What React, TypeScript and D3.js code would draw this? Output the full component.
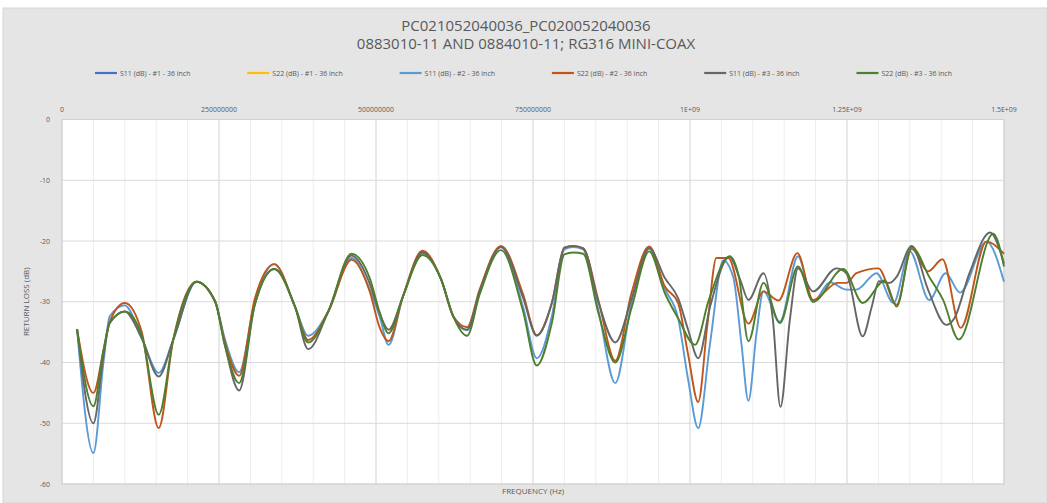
import * as d3 from "d3";

// frequency (MHz) / return loss (dB)
const freqS11n2 = [24, 50, 66, 76, 100, 127, 154, 177, 214, 244, 259, 282, 307, 338, 371, 392, 424, 461, 490, 506, 520, 543, 574, 604, 623, 645, 665, 699, 734, 756, 780, 800, 814, 830, 854, 881, 907, 935, 960, 981, 997, 1013, 1032, 1053, 1069, 1082, 1093, 1106, 1117, 1143, 1172, 1196, 1223, 1249, 1265, 1297, 1324, 1350, 1381, 1407, 1430, 1472, 1500];
const rlS11n2 = [-34.5, -54.9, -40, -32.4, -30.6, -36, -41.7, -36.3, -26.7, -30, -36, -41.6, -30, -23.8, -30.8, -35.6, -31.6, -22.8, -28, -32.5, -37.1, -29.1, -21.9, -26.4, -32.4, -34.7, -28.6, -21.0, -30.8, -39.3, -32.4, -21.4, -21.0, -21.4, -31.3, -43.4, -30.0, -21.2, -27.9, -32.7, -42.8, -50.8, -36.8, -23.2, -26, -37, -46.3, -35.1, -28.3, -33.3, -22.5, -30.0, -26.8, -28.0, -28.0, -25.3, -30.2, -21.7, -29.7, -25.3, -28.5, -20.1, -26.7];

const freqS22n2 = [24, 50, 66, 76, 100, 127, 154, 177, 214, 244, 259, 282, 307, 338, 371, 392, 424, 461, 490, 506, 520, 543, 574, 604, 623, 645, 665, 699, 734, 756, 780, 800, 814, 830, 854, 881, 907, 935, 960, 981, 997, 1013, 1028, 1042, 1061, 1093, 1117, 1141, 1171, 1196, 1235, 1249, 1265, 1300, 1329, 1353, 1379, 1402, 1431, 1472, 1500];
const rlS22n2 = [-34.5, -45.0, -38, -33.3, -30.2, -35, -50.8, -36.3, -26.7, -30, -36.5, -42.2, -29.5, -23.8, -30.8, -36.3, -31.6, -23.1, -28.3, -34.3, -36.5, -29.1, -21.6, -26.4, -32.4, -34.2, -28.0, -20.8, -28.7, -35.5, -30.2, -21.1, -20.8, -21.2, -29.7, -39.7, -28.5, -20.9, -27.5, -30.2, -38.7, -46.5, -33.5, -22.8, -22.8, -33.6, -28.3, -29.8, -22.0, -29.7, -26.9, -26.9, -25.3, -24.5, -30.5, -21.3, -25.0, -23.0, -34.3, -20.1, -22.1];

const freqS11n3 = [24, 50, 66, 76, 100, 127, 154, 177, 214, 244, 259, 282, 307, 338, 371, 392, 424, 461, 490, 506, 520, 543, 574, 604, 623, 645, 665, 699, 734, 756, 780, 800, 814, 830, 854, 881, 907, 935, 960, 981, 997, 1013, 1032, 1063, 1080, 1093, 1117, 1132, 1144, 1159, 1172, 1196, 1233, 1249, 1275, 1289, 1301, 1318, 1329, 1353, 1379, 1408, 1421, 1445, 1478, 1500];
const rlS11n3 = [-34.5, -50.0, -39, -33.5, -31.6, -36, -42.3, -36.3, -26.7, -30, -37, -44.6, -30.5, -24.6, -30.8, -37.8, -31.6, -22.4, -27, -32, -34.6, -29.1, -21.9, -26.4, -32.4, -34.6, -28.3, -21.0, -29.3, -35.6, -30.2, -21.1, -20.8, -21.2, -30, -36.7, -29.5, -21.2, -26.1, -29.4, -34.6, -39.3, -30.8, -22.6, -26.4, -29.7, -25.3, -33, -47.3, -33, -24.5, -28.3, -24.5, -25.3, -35.7, -31, -26.6, -26.9, -25.9, -20.8, -28.0, -33.8, -32.7, -25.3, -18.6, -23.7];

const freqS22n3 = [24, 50, 66, 76, 100, 127, 154, 177, 214, 244, 259, 282, 307, 338, 371, 392, 424, 461, 490, 506, 520, 543, 574, 604, 623, 645, 665, 699, 734, 756, 780, 800, 814, 830, 854, 881, 907, 935, 960, 981, 1008, 1030, 1063, 1078, 1093, 1117, 1143, 1172, 1196, 1244, 1275, 1310, 1329, 1353, 1382, 1403, 1428, 1483, 1500];
const rlS22n3 = [-34.5, -47.2, -38, -33.5, -31.6, -35.5, -48.6, -36.3, -26.7, -30, -37, -43.4, -30.5, -24.6, -30.8, -36.7, -31.6, -22.1, -26.1, -31.8, -35.2, -29.1, -22.3, -26.4, -32.4, -35.6, -28.8, -21.5, -31.5, -40.5, -33.5, -22.2, -21.9, -22.1, -31.8, -40.0, -31, -21.7, -28.6, -32.7, -37.1, -29.7, -22.5, -26, -36.5, -26.9, -33.5, -24.2, -30.0, -24.6, -30.2, -26.5, -30.8, -21.0, -26.1, -29.7, -36.2, -18.8, -24.2];

const seriesNames = [
  "S11 (dB) - #1 - 36 inch",
  "S22 (dB) - #1 - 36 inch",
  "S11 (dB) - #2 - 36 inch",
  "S22 (dB) - #2 - 36 inch",
  "S11 (dB) - #3 - 36 inch",
  "S22 (dB) - #3 - 36 inch",
];
const seriesColors = ["#4472C4", "#FFC000", "#5B9BD5", "#C0561A", "#666666", "#4E7F2E"];
// #1 measurements have no plotted points in the source chart
const seriesFreqs: number[][] = [[], [], freqS11n2, freqS22n2, freqS11n3, freqS22n3];
const seriesValues: number[][] = [[], [], rlS11n2, rlS22n2, rlS11n3, rlS22n3];

const xTicks = [0, 250e6, 500e6, 750e6, 1e9, 1.25e9, 1.5e9];
const xTickLabels = ["0", "250000000", "500000000", "750000000", "1E+09", "1.25E+09", "1.5E+09"];
const yTicks = [0, -10, -20, -30, -40, -50, -60];

const W = 1047;
const H = 503;
const plot = { left: 62, right: 1004, top: 119.5, bottom: 484 };

export default function App() {
  const x = d3.scaleLinear().domain([0, 1.5e9]).range([plot.left, plot.right]);
  const y = d3.scaleLinear().domain([-60, 0]).range([plot.bottom, plot.top]);

  const line = d3
    .line<[number, number]>()
    .x(d => x(d[0] * 1e6))
    .y(d => y(d[1]))
    .curve(d3.curveMonotoneX);

  const minorX = d3.range(0, 1.5e9 + 1, 50e6);
  const font = "'Open Sans', 'Liberation Sans', sans-serif";

  return (
    <svg width={W} height={H} style={{ position: "absolute", left: 0, top: 0 }} fontFamily={font}>
      <rect x={0} y={0} width={W} height={H} fill="#ffffff" />
      <rect x={3} y={8} width={W - 3} height={H - 8} fill="#e5e5e5" stroke="#d6d6d6" />

      <text x={526} y={31} textAnchor="middle" fontSize={15} fill="#595959">
        PC021052040036_PC020052040036
      </text>
      <text x={526} y={49} textAnchor="middle" fontSize={15} fill="#595959">
        0883010-11 AND 0884010-11; RG316 MINI-COAX
      </text>

      {seriesNames.map((name, i) => {
        const lx = 95 + i * 152.3;
        return (
          <g key={name}>
            <line x1={lx} x2={lx + 22} y1={73} y2={73} stroke={seriesColors[i]} strokeWidth={2.2} />
            <text x={lx + 25} y={75.5} fontSize={7} fill="#595959">
              {name}
            </text>
          </g>
        );
      })}

      <rect x={plot.left} y={plot.top} width={plot.right - plot.left} height={plot.bottom - plot.top} fill="#ffffff" />
      {minorX.map(v => (
        <line key={"mx" + v} x1={x(v)} x2={x(v)} y1={plot.top} y2={plot.bottom} stroke="#eeeeee" strokeWidth={1} />
      ))}
      {xTicks.map(v => (
        <line key={"gx" + v} x1={x(v)} x2={x(v)} y1={plot.top} y2={plot.bottom} stroke="#dadada" strokeWidth={1} />
      ))}
      {yTicks.map(v => (
        <line key={"gy" + v} x1={plot.left} x2={plot.right} y1={y(v)} y2={y(v)} stroke="#dadada" strokeWidth={1} />
      ))}
      <rect x={plot.left} y={plot.top} width={plot.right - plot.left} height={plot.bottom - plot.top} fill="none" stroke="#d0d0d0" />

      {xTicks.map((v, i) => (
        <text key={"tx" + v} x={x(v)} y={112} textAnchor="middle" fontSize={7} fill="#595959">
          {xTickLabels[i]}
        </text>
      ))}
      {yTicks.map(v => (
        <text key={"ty" + v} x={50} y={y(v) + 2.5} textAnchor="end" fontSize={7} fill="#595959">
          {String(v)}
        </text>
      ))}

      <text transform={`translate(29,${(plot.top + plot.bottom) / 2}) rotate(-90)`} textAnchor="middle" fontSize={8} fill="#595959">
        RETURN LOSS (dB)
      </text>
      <text x={(plot.left + plot.right) / 2} y={494} textAnchor="middle" fontSize={8} fill="#595959">
        FREQUENCY (Hz)
      </text>

      {seriesValues.map((vals, i) => {
        if (!vals.length) return null;
        const pts = vals.map((v, j) => [seriesFreqs[i][j], v] as [number, number]);
        return (
          <path key={"s" + i} d={line(pts) || ""} fill="none" stroke={seriesColors[i]} strokeWidth={1.9} strokeLinejoin="round" />
        );
      })}
    </svg>
  );
}
